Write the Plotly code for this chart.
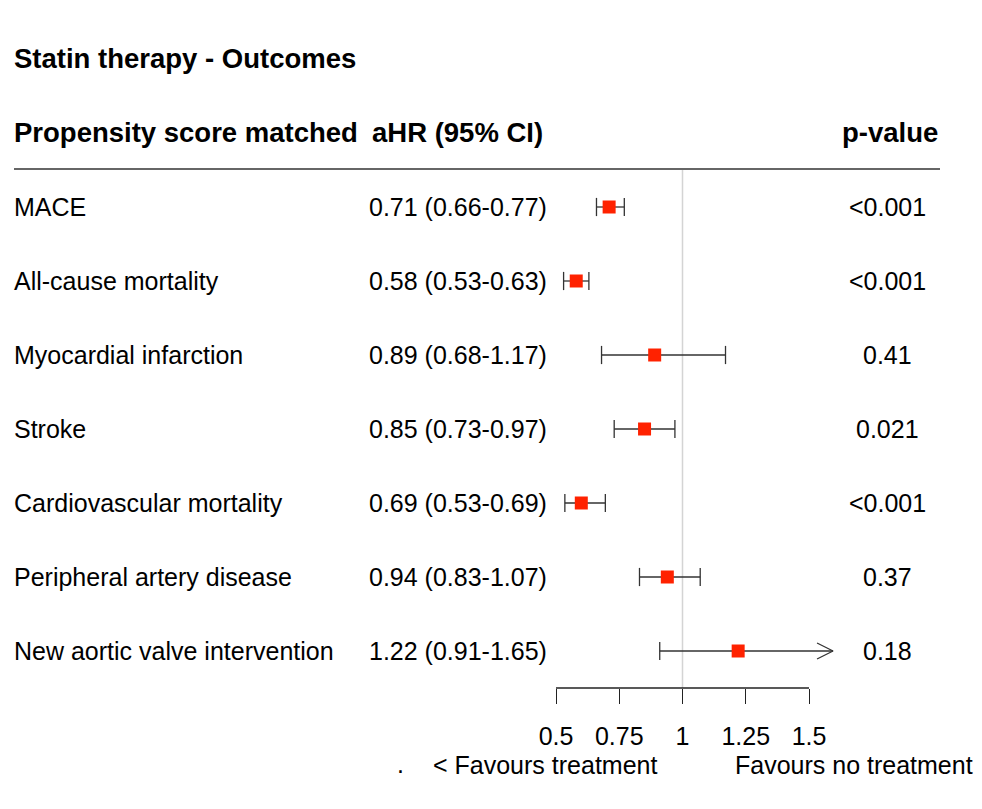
import plotly.graph_objects as go

# ---------------- data ----------------
title = "Statin therapy - Outcomes"
col_headers = ["Propensity score matched", "aHR (95% CI)", "p-value"]
outcomes = ["MACE", "All-cause mortality", "Myocardial infarction", "Stroke",
            "Cardiovascular mortality", "Peripheral artery disease",
            "New aortic valve intervention"]
ci_labels = ["0.71 (0.66-0.77)", "0.58 (0.53-0.63)", "0.89 (0.68-1.17)",
             "0.85 (0.73-0.97)", "0.69 (0.53-0.69)", "0.94 (0.83-1.07)",
             "1.22 (0.91-1.65)"]
hr = [0.71, 0.58, 0.89, 0.85, 0.60, 0.94, 1.22]
lower = [0.66, 0.53, 0.68, 0.73, 0.535, 0.83, 0.91]
upper = [0.77, 0.63, 1.17, 0.97, 0.695, 1.07, 1.65]
p_values = ["<0.001", "<0.001", "0.41", "0.021", "<0.001", "0.37", "0.18"]
tick_vals = [0.5, 0.75, 1, 1.25, 1.5]
tick_text = ["0.5", "0.75", "1", "1.25", "1.5"]
clip_max = 1.595
favours_left = "< Favours treatment"
favours_right = "Favours no treatment"

# ---------------- layout geometry ----------------
W, H = 982, 809
px_lo, px_hi = 556, 809          # pixel of 0.5 and 1.5
scale = (px_hi - px_lo) / 1.0
x0 = 0.5 - px_lo / scale
x1 = x0 + W / scale
row0_px, row_step = 207, 74
ytop = -row0_px / row_step
ybot = ytop + H / row_step
axis_px = 688


def ypx(p):
    return (p - row0_px) / row_step


def xp(p):
    return p / W


FONT = "Liberation Sans, Arial, sans-serif"
FS = 25
FSB = 27.5
rows = list(range(len(outcomes)))

fig = go.Figure()

# CI lines and caps
seg_x, seg_y, cap_x, cap_y = [], [], [], []
arr_x, arr_y = [], []
for i in rows:
    hi = min(upper[i], clip_max)
    seg_x += [lower[i], hi, None]
    seg_y += [i, i, None]
    cap_x.append(lower[i]); cap_y.append(i)
    if upper[i] <= clip_max:
        cap_x.append(upper[i]); cap_y.append(i)
    else:
        dx = 16 / scale
        dy = 8 / row_step
        arr_x += [hi - dx, hi, hi - dx, None]
        arr_y += [i - dy, i, i + dy, None]

line_col = "#333333"
fig.add_trace(go.Scatter(x=seg_x, y=seg_y, mode="lines",
                         line=dict(color=line_col, width=1.3),
                         hoverinfo="skip", showlegend=False))
fig.add_trace(go.Scatter(x=cap_x, y=cap_y, mode="markers",
                         marker=dict(symbol="line-ns", size=13,
                                     line=dict(color=line_col, width=1.3)),
                         hoverinfo="skip", showlegend=False))
if arr_x:
    fig.add_trace(go.Scatter(x=arr_x, y=arr_y, mode="lines",
                             line=dict(color=line_col, width=1.3),
                             hoverinfo="skip", showlegend=False))
fig.add_trace(go.Scatter(x=hr, y=rows, mode="markers",
                         marker=dict(symbol="square", size=13, color="#ff2200",
                                     line=dict(width=0)),
                         showlegend=False))

# reference line at 1, header rule, axis baseline
fig.add_shape(type="line", xref="x", yref="y", x0=1, x1=1,
              y0=ypx(169), y1=ypx(axis_px), line=dict(color="#d4d4d4", width=1.5),
              layer="below")
fig.add_shape(type="line", xref="paper", yref="y", x0=xp(14), x1=xp(940),
              y0=ypx(169), y1=ypx(169), line=dict(color="#666666", width=2))
fig.add_shape(type="line", xref="x", yref="y", x0=tick_vals[0], x1=tick_vals[-1],
              y0=ypx(axis_px), y1=ypx(axis_px),
              line=dict(color="#222222", width=1.3))

ann = []


def add_text(text, xpix, ypix_, anchor, size=FS, bold=False):
    t = f"<b>{text}</b>" if bold else text
    ann.append(dict(text=t, x=xp(xpix), y=ypx(ypix_), xref="paper", yref="y",
                    xanchor=anchor, yanchor="middle", showarrow=False,
                    font=dict(family=FONT, size=size, color="black")))


add_text(title, 12, 58, "left", FSB, True)
add_text(col_headers[0], 12, 132, "left", FSB, True)
add_text(col_headers[1], 370, 132, "left", FSB, True)
add_text(col_headers[2], 940, 132, "right", FSB, True)
for i in rows:
    ann.append(dict(text=outcomes[i], x=xp(12), y=i, xref="paper", yref="y",
                    xanchor="left", yanchor="middle", showarrow=False,
                    font=dict(family=FONT, size=FS, color="black")))
    ann.append(dict(text=ci_labels[i], x=xp(367), y=i, xref="paper", yref="y",
                    xanchor="left", yanchor="middle", showarrow=False,
                    font=dict(family=FONT, size=FS, color="black")))
    ann.append(dict(text=p_values[i], x=xp(887), y=i, xref="paper", yref="y",
                    xanchor="center", yanchor="middle", showarrow=False,
                    font=dict(family=FONT, size=FS, color="black")))
add_text(".", 395, 764, "left")
add_text(favours_left, 659, 765, "right")
add_text(favours_right, 733, 765, "left")

fig.update_layout(
    width=W, height=H, margin=dict(l=0, r=0, t=0, b=0, pad=0),
    paper_bgcolor="white", plot_bgcolor="rgba(0,0,0,0)",
    showlegend=False,
    annotations=ann,
    xaxis=dict(range=[x0, x1], domain=[0, 1], fixedrange=True,
               anchor="free", position=1 - axis_px / H,
               showline=False, showgrid=False, zeroline=False,
               ticks="outside", ticklen=15, tickwidth=1.3, tickcolor="#222222",
               tickvals=tick_vals, ticktext=tick_text,
               ticklabelstandoff=11, automargin=False,
               tickfont=dict(family=FONT, size=FS, color="black")),
    yaxis=dict(range=[ybot, ytop], domain=[0, 1], visible=False,
               fixedrange=True, automargin=False),
)
fig.write_html("out.html")
